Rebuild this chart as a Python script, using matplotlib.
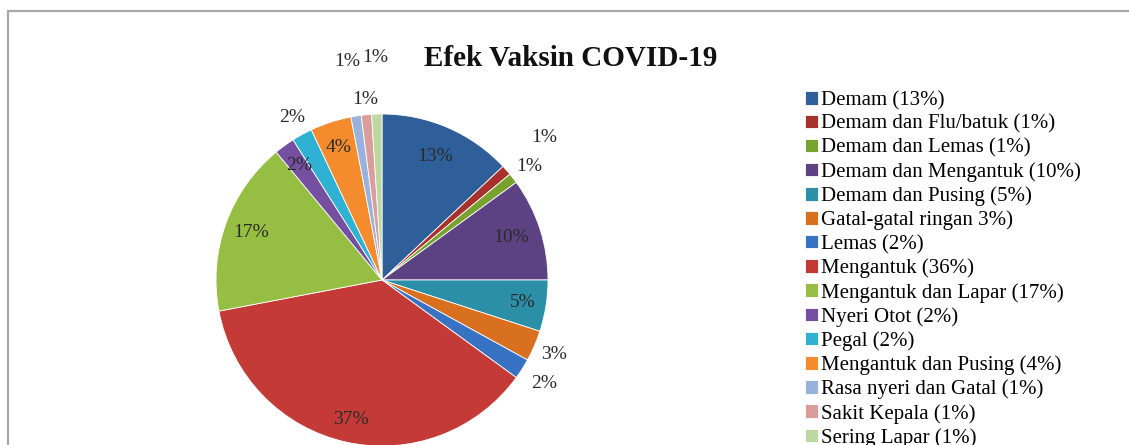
import matplotlib.pyplot as plt
from matplotlib.patches import Rectangle
import numpy as np


# ==========================================================
# Data
# ==========================================================

categories = [
    "Demam (13%)",
    "Demam dan Flu/batuk (1%)",
    "Demam dan Lemas (1%)",
    "Demam dan Mengantuk (10%)",
    "Demam dan Pusing (5%)",
    "Gatal-gatal ringan 3%)",
    "Lemas (2%)",
    "Mengantuk (36%)",
    "Mengantuk dan Lapar (17%)",
    "Nyeri Otot (2%)",
    "Pegal (2%)",
    "Mengantuk dan Pusing (4%)",
    "Rasa nyeri dan Gatal (1%)",
    "Sakit Kepala (1%)",
    "Sering Lapar (1%)",
]

values = [13, 1, 1, 10, 5, 3, 2, 37, 17, 2, 2, 4, 1, 1, 1]

colors = [
    "#2F5F98", "#A8302D", "#78A22F", "#5C4282", "#2B8FA8",
    "#D8701F", "#3872C2", "#C43A36", "#95BE42", "#7650A0",
    "#2FB1D3", "#F48B2C", "#98B2DB", "#DB9D9B", "#BDD7A0",
]

# radial position of each percentage label (in pie radii)
label_dist = [0.81, 1.30, 1.12, 0.82, 0.86, 1.13, 1.16, 0.86,
              0.84, 0.85, 1.12, 0.84, 1.33, 1.09, 1.34]


# ==========================================================
# Figure
# ==========================================================

plt.rcParams["font.family"] = ["Liberation Serif", "DejaVu Serif"]

W, H = 1129, 445
fig = plt.figure(figsize=(W / 100, H / 100), dpi=100)

# outer chart frame (cut by the image edges)
fig.patches.append(
    Rectangle(
        (7.5 / W, -0.2),
        1.2,
        (H - 11) / H + 0.2,
        transform=fig.transFigure,
        facecolor="none",
        edgecolor="#A8A8A8",
        linewidth=1.6,
    )
)

cx, cy, r = 382, 280, 166
ax = fig.add_axes([(cx - r) / W, (H - cy - r) / H, 2 * r / W, 2 * r / H])
ax.axis("off")

wedges, _ = ax.pie(
    values,
    colors=colors,
    startangle=90,
    counterclock=False,
    radius=1,
    wedgeprops=dict(edgecolor="white", linewidth=0.6),
)

# pie() widens the limits, pull them back to the radius
ax.set_xlim(-1, 1)
ax.set_ylim(-1, 1)
ax.set_aspect("equal")

for w, v, d in zip(wedges, values, label_dist):
    mid = np.deg2rad((w.theta1 + w.theta2) / 2)
    ax.text(
        d * np.cos(mid),
        d * np.sin(mid),
        f"{v}%",
        ha="center",
        va="center",
        fontsize=14,
        color="#2A2A2A",
        clip_on=False,
    )

fig.text(
    571 / W,
    1 - 59 / H,
    "Efek Vaksin COVID-19",
    ha="center",
    va="center",
    fontsize=21,
    fontweight="bold",
    color="#111111",
)

fig.legend(
    wedges,
    categories,
    loc="upper left",
    bbox_to_anchor=(805 / W, 1 - 91 / H),
    frameon=False,
    fontsize=15,
    handlelength=0.62,
    handleheight=0.62,
    handletextpad=0.15,
    labelspacing=0.215,
    borderaxespad=0,
    borderpad=0,
)

fig.savefig("out.png", dpi=100)
